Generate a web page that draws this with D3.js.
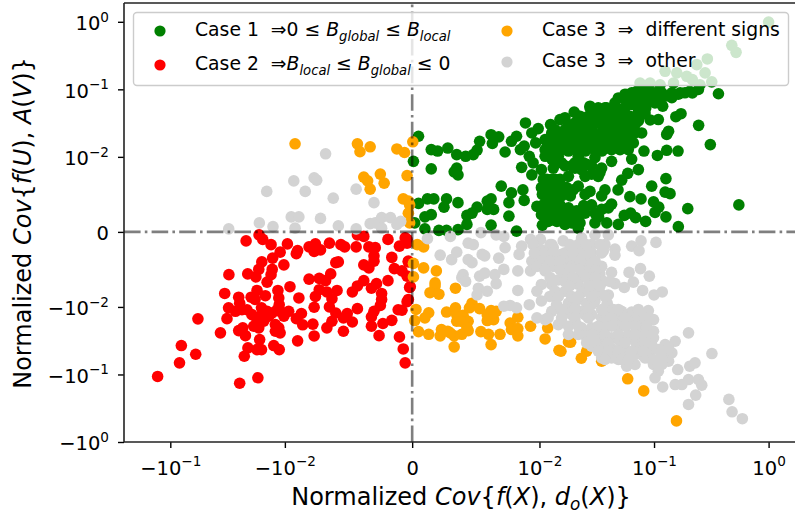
<!DOCTYPE html>
<html>
<head>
	<title>Chart</title>
	<meta charset='utf-8'>
	<style>
		body {
			margin: 0;
			background: #fff;
		}

		text {
			font-family: 'DejaVu Sans', sans-serif;
			fill: #000;
			white-space: pre;
		}

		.tick line {
			stroke: #000;
			stroke-width: 1.4px;
		}

		.axis path.domain {
			stroke-width: 0;
		}

		.spine {
			stroke: #222;
			stroke-width: 1.6px;
		}

		.zero-line {
			stroke: #000;
			stroke-opacity: 0.5;
			stroke-width: 2.6px;
			stroke-dasharray: 16.6 4.2 2.6 4.2;
		}
	</style>
</head>
<body>
<div id="chart"></div>
<script src='https://cdnjs.cloudflare.com/ajax/libs/d3/7.8.5/d3.min.js'></script>
<script>
	'use strict';

	const xTickValues = [-0.1, -0.01, 0, 0.01, 0.1, 1];
	const yTickValues = [-1, -0.1, -0.01, 0, 0.01, 0.1, 1];

	// values, [x, y]
	const case1Points = [
		[.0005,.0202],[.0001,.0094],[.0015,.0084],[.0015,.0128],[.0020,.0122],[.0028,.0135],[.0035,.0108],[.0042,.0102],
		[.0048,.0108],[.0051,.0126],[.0053,.0170],[.0062,.0213],[.0068,.0198],[.0063,.0158],[.0073,.0118],[.0078,.0170],
		[.0082,.0202],[.0085,.0128],[.0088,.0144],[.0089,.0318],[.0094,.0226],[.0099,.0262],[.0097,.0161],[.0092,.0102],
		[.0095,.0092],[.0086,.0086],[.0094,.0076],[.0104,.0083],[.0125,.0301],[.0151,.0357],[.0167,.0380],[.0201,.0461],
		[.0112,.0180],[.0119,.0128],[.0128,.0202],[.0137,.0144],[.0156,.0180],[.0146,.0102],[.0179,.0202],[.0191,.0144],
		[.0167,.0254],[.0204,.0318],[.0218,.0180],[.0233,.0254],[.0250,.0357],[.0276,.0563],[.0305,.0448],[.0373,.0532],
		[.0349,.0357],[.0285,.0254],[.0326,.0202],[.0267,.0144],[.0305,.0099],[.0218,.0102],[.0191,.0088],[.0233,.0083],
		[.0285,.0077],[.0349,.0085],[.0326,.0074],[.0426,.0094],[.0399,.0144],[.0426,.0254],[.0488,.0400],[.0456,.0631],
		[.0558,.0847],[.0638,.0597],[.0730,.0792],[.0892,.0995],[.102,.0888],[.119,.0563],[.109,.0357],[.0925,.0352],
		[.0834,.0448],[.0730,.0340],[.0522,.0318],[.0638,.0226],[.0558,.0161],[.0780,.0226],[.0660,.0161],[.0488,.0180],
		[.0638,.0097],[.0817,.0122],[.107,.0105],[.129,.0125],[.162,.0122],[.129,.0215],[.134,.0240],[.155,.0393],
		[.172,.0436],[.245,.0293],[.310,.0152],[.365,.0860],[.55,.0036],[.197,.0031],[.163,.0007],[.127,.0071],
		[.127,.0020],[.0954,.0061],[.125,.0053],[.138,.0051],[.0770,.0044],[.0615,.0047],[.0990,.0040],[.110,.0033],
		[.102,.0026],[.0845,.0014],[.0690,.0019],[.0625,.0025],[.0550,.0022],[.0485,.0056],[.0522,.0069],[.0590,.0078],
		[.0730,.0083],[.0488,.0010],[.0387,.0012],[.0305,.0012],[.0426,.0037],[.0399,.0032],[.0349,.0030],[.0373,.0056],
		[.0349,.0048],[.0276,.0054],[.0250,.0050],[.0218,.0061],[.0186,.0048],[.0197,.0056],[.0243,.0035],[.0285,.0036],
		[.0305,.0025],[.0218,.0019],[.0191,.0025],[.0167,.0023],[.0151,.0034],[.0137,.0052],[.0156,.0061],[.0128,.0065],
		[.0106,.0050],[.0116,.0070],[.0128,.0043],[.0142,.0032],[.0098,.0034],[.0104,.0023],[.0106,.0009],[.0128,.0016],
		[.0167,.0010],[.0218,.0005],[.0087,.0056],[.0088,.0042],[.0070,.0061],[.0078,.0052],[.0076,.0039],[.0076,.0021],
		[.0082,.0001],[.0062,.0009],[.0062,.0044],[.0059,.0041],[.0051,.0033],[.0059,.0030],[.0064,.0030],[.0036,.0039],
		[.0027,.0044],[.0025,.0033],[.0017,.0044],[.0012,.0044],[.0005,.0038],[.0015,.0023],[.0010,.0020],[.0002,.0012],
		[.0010,.0004],[.0021,.0002],[.0027,.0002],[.0036,.0003],[.0043,.0022],[.0047,.0025],[.0043,.0010],[.0035,.0085],
		[.0033,.0080],[.0036,.0076],[.0112,.0056],[.0119,.0061],[.0137,.0070],[.0137,.0254],[.0179,.0284],[.0218,.0400],
		[.0285,.0357],[.0426,.0448],[.0522,.0502],[.0596,.0400],[.0730,.0502],[.0834,.0631],[.0682,.0707],[.102,.0631],
		[.125,.0792],[.163,.0847],[.205,.0935],[.244,.0995],[.143,.0752],[.0488,.0745],[.0326,.0318],[.0399,.0284],
		[.0522,.0226],[.0250,.0202],[.0399,.0202],[.0191,.0202],[.0137,.0180],[.0128,.0097],[.0179,.0122],[.0250,.0122],
		[.0349,.0122],[.0204,.0092],[.0258,.0090],[.0167,.0088],[.0337,.0180],[.0167,.0144],[.0558,.0284],[.0755,.0707],
		[.0456,.0161],[.0112,.0102],[.0128,.0059],[.0142,.0056],[.0132,.0039],[.0119,.0028],[.0156,.0016],[.0186,.0014],
		[.0142,.0021],[.0328,.0020],
		[.0276,.0532],[.0326,.0532],[.0385,.0532],[.0466,.0532],[.0558,.0532],[.0730,.0532],[.0848,.0532],
		[.0226,.04],[.0267,.04],[.0315,.04],[.0373,.04],[.0441,.04],[.0522,.04],[.0617,.04],[.0755,.04],
		[.0179,.0301],[.0211,.0301],[.025,.0301],[.0295,.0301],[.0349,.0301],[.0412,.0301],[.0488,.0301],[.0577,.0301],[.0682,.0301],
		[.0128,.0226],[.0151,.0226],[.0179,.0226],[.0211,.0226],[.025,.0226],[.0295,.0226],[.0349,.0226],[.0412,.0226],[.0488,.0226],[.0577,.0226],[.0682,.0226],
		[.0115,.0171],[.0137,.0171],[.0161,.0171],[.0191,.0171],[.0226,.0171],[.0267,.0171],[.0315,.0171],[.0373,.0171],[.0441,.0171],[.0522,.0171],[.0617,.0171],
		[.0112,.0128],[.0132,.0128],[.0156,.0128],[.0184,.0128],[.0218,.0128],[.0258,.0128],[.0305,.0128],[.0361,.0128],[.0426,.0128],[.0505,.0128],[.0596,.0128],
		[.0558,.0707],[.0660,.0707],[.078,.0707],[.0921,.0707],[.109,.0707],
		[.0638,.0888],[.078,.0888],[.0954,.0888],[.117,.0888],[.143,.0888],[.186,.0888],
		[.0108,.0070],[.0128,.0070],[.0151,.0070],[.0104,.0059],[.0124,.0059],[.0146,.0059],[.0173,.0059],
		[.0112,.0048],[.0132,.0048],[.0156,.0048],[.0108,.0036],[.0128,.0036],[.0151,.0036],
		[.0112,.0025],[.0132,.0025],[.0156,.0025],[.0119,.0014],[.0142,.0014],[.0167,.0014],
		[.0204,.0085],[.0242,.0092],[.0285,.0088],[.0337,.0079],[.025,.0074],[.0156,.0092],[.0132,.0085],[.0179,.0074],
		[.0179,.0032],[.0211,.0028],[.025,.0025],[.0191,.0012],[.0226,.0012],
		[1.0,.99],[.477,.449],[.52,.353],[.292,.282],[.236,.232],[.279,.175],[.319,.129],[.193,.156],[.158,.175],
		[.125,.185],[.0755,.124],[.0923,.124],[.113,.117],[.148,.124],[.216,.139],[.252,.117],[.0577,.0836],[.0706,.0936],
		[.0863,.0936],[.113,.0885],[.169,.0885],[.216,.0885]
	];

	const case2Points = [
		[.0168,.0004],[.0218,.0012],[.0156,.001],[.0132,.0017],[.0098,.0016],[.0110,.0027],[.0090,.0025],[.0091,.0029],
		[.0081,.0020],[.0076,.0016],[.0077,.0026],[.0072,.0024],[.0065,.0015],[.0056,.0017],[.0053,.0020],[.0044,.0020],
		[.0043,.0004],[.0038,.0006],[.0034,.0020],[.0029,.0021],[.0019,.0010],[.00055,.0008],[.0010,.0019],[.0004,.0015],
		[.0030,.0032],[.0030,.0039],[.0034,.0048],[.0038,.0044],[.0016,.0034],[.0014,.0049],[.0008,.0052],[.0003,.0039],
		[.0004,.0059],[.0060,.0041],[.0058,.0040],[.0064,.0056],[.0068,.0065],[.0073,.0062],[.0081,.0063],[.0159,.0040],
		[.0128,.0035],[.0102,.0044],[.0129,.0050],[.0132,.0057],[.0143,.0067],[.0169,.0050],[.0179,.0060],[.0211,.0056],
		[.0308,.0057],[.0335,.0082],[.0253,.0087],[.0248,.0095],[.0175,.0078],[.0197,.0087],[.0182,.0090],[.0148,.0085],
		[.0115,.0078],[.0113,.0088],[.0096,.0073],[.0089,.0088],[.0112,.0097],[.0073,.0077],[.0076,.0086],[.0067,.0080],
		[.0059,.0078],[.0063,.0089],[.0077,.0101],[.0065,.0100],[.0060,.0123],[.0047,.0080],[.0043,.0072],[.0038,.0065],
		[.0032,.0075],[.0028,.0069],[.0024,.0082],[.0024,.0090],[.0025,.0098],[.0030,.0116],[.0032,.0140],[.0032,.0193],
		[.0019,.0065],[.0043,.0106],[.0051,.0125],[.0047,.0167],[.0054,.0145],[.0063,.0163],[.0067,.0204],[.0054,.0229],
		[.0023,.0176],[.0016,.0158],[.0026,.0266],[.0010,.0278],[.0007,.0419],[.00055,.0673],[.0011,.0110],[.0008,.0112],
		[.0003,.0090],[.0002,.0074],[.0310,.0103],[.0270,.0116],[.0237,.0110],[.0320,.0149],[.0574,.0150],[.0365,.0242],
		[.0253,.0224],[.0233,.0204],[.0221,.0266],[.0160,.0103],[.0143,.0116],[.0164,.0137],[.0129,.0123],[.0110,.0116],
		[.0097,.0116],[.0102,.0137],[.0091,.0149],[.0087,.0125],[.0086,.0184],[.0078,.0180],[.0077,.0269],[.0090,.0318],
		[.0187,.0193],[.0169,.0204],[.0153,.0163],[.0121,.0182],[.0113,.0204],[.0121,.0229],[.0110,.0242],[.0166,.0304],
		[.0210,.0404],[.0226,.0537],[.0175,.0428],[.0160,.0428],[.0125,.0373],[.0112,.0428],[.0801,.0373],[.0600,.0502],
		[.0831,.0673],[.129,.107],[.0248,.135],[.0172,.112],[.0214,.0110],[.0194,.0130],[.0175,.0154],[.0138,.0137],
		[.0117,.0110],[.0004,.001],[.0003,.004],[.00015,.0073],[.0004,.0093]
	].map((d) => [-d[0], -d[1]]);

	const case3SignPoints = [
		[.0004,-.0017],[.0009,-.0020],[.0001,-.0042],[.0009,-.0048],[.0019,-.0052],[.0001,-.0060],[.0018,-.0068],[.0018,-.0072],
		[.0034,-.0075],[.0014,-.0081],[.0021,-.0083],[.0003,-.0109],[.0013,-.0122],[.0010,-.0145],[.0002,-.0159],[.0005,-.0232],
		[.0013,-.0254],[.0022,-.0268],[.0023,-.0216],[.0028,-.0229],[.0027,-.0119],[.0034,-.0103],[.0035,-.0130],[.0040,-.0133],
		[.0035,-.0163],[.0042,-.0173],[.0044,-.0163],[.0047,-.0095],[.0045,-.0103],[.0053,-.0106],[.0062,-.0113],[.0066,-.0116],
		[.0059,-.0159],[.0064,-.0154],[.0044,-.0224],[.0039,-.0254],[.0033,-.0268],[.0033,-.0390],[.0054,-.0232],[.0060,-.0254],
		[.0069,-.0254],[.0062,-.0361],[.0077,-.0173],[.0078,-.0216],[.0083,-.0209],[.0083,-.0268],[.0083,-.0142],[.0093,-.0193],
		[.0118,-.0204],[.0112,-.0298],[.0148,-.0438],[.0154,-.0453],[.0179,-.0330],[.0187,-.0333],[.0232,-.0575],[.0258,-.0453],
		[.0349,-.0636],[.0589,-.116],[.0813,-.175],[.157,-.487],[.0038,-.0163],[.0043,-.0204],[.0030,-.0243],[.0059,-.0130],
		[.0064,-.0122],
		[-.0092,.0156],[-.0043,.0156],[-.0041,.0119],[-.0033,.0141],[-.0012,.0131],[-.0006,.0116],[.00005,.0167],[-.0038,.0073],
		[-.0035,.0068],[-.0033,.0057],[-.0025,.0077],[-.0022,.0065],[-.0004,.0075],[-.0007,.0044],[-.0003,.0041],[-.0002,.0036],
		[-.0003,.0025],[-.0002,.0012]
	];

	const case3OtherPoints = [
		[-.0068,.0111],[-.0093,.0068],[-.0077,.0072],[-.0075,.0069],[-.0084,.0054],[-.0144,.0054],[-.0062,.0045],[-.0044,.0057],
		[-.0030,.0039],[-.0095,.0020],[-.0089,.0020],[-.0167,.0012],[-.0072,.0018],[-.0127,.0007],[-.0092,.0005],[-.0309,.0004],
		[-.0058,.0008],[-.0044,.0004],[-.0033,.0011],[-.0029,.0012],[-.0024,.0019],[-.0017,.0019],[-.0009,.0014],[-.0012,.0010],
		[-.0024,.0005]
	].concat([
		[.0012,.0009],[.0022,.0031],[.0031,.0037],[.0035,.0027],[.0030,.0006],[.0044,.0015],[.0048,.0017],[.0055,.0030],
		[.0057,.0032],[.0047,.0041],[.0044,.0037],[.0068,.0035],[.0073,.0021],[.0066,.0004],[.0072,.0006],[.0054,.0001],
		[.0040,.0057],[.0039,.0061],[.0042,.0066],[.0053,.0059],[.0057,.0055],[.0065,.0057],[.0072,.0050],[.0066,.0069],
		[.0052,.0075],[.0059,.0079],[.0051,.0084],[.0083,.0078],[.0083,.0052],[.0084,.0030],[.0086,.0019],[.0093,.0010],
		[.0102,.0010],[.0104,.0024],[.0132,.0021],[.0137,.0031],[.0161,.0012],[.0191,.0021],[.0233,.0008],[.0305,.0004],
		[.0399,.0004],[.0093,.0052],[.0094,.0039],[.0101,.0037],[.0112,.0052],[.0119,.0041],[.0151,.0044],[.0179,.0041],
		[.0218,.0046],[.0258,.0035],[.0285,.0028],[.0361,.0025],[.0456,.0023],[.0456,.0031],[.0638,.0019],[.0770,.0012],
		[.0740,.0025],[.104,.0014],[.0276,.0057],[.0337,.0056],[.0426,.0054],[.0605,.0054],[.0762,.0049],[.0910,.0059],
		[.0660,.0067],[.0550,.0074],[.0456,.0069],[.0361,.0066],[.0399,.0084],[.0795,.0078],[.100,.0084],[.118,.0080],
		[.0146,.0064],[.0128,.0070],[.0104,.0070],[.0098,.0079],[.0184,.0059],[.0218,.0070],[.0258,.0075],[.0233,.0081],
		[.0123,.0086],[.0104,.0092],[.0092,.0097],[.0082,.0103],[.0077,.0098],[.0072,.0099],[.0141,.0097],[.0179,.0095],
		[.0218,.0090],[.0258,.0095],[.0305,.0092],[.0390,.0095],[.0441,.0109],[.0638,.0119],[.0892,.0113],[.0098,.0145],
		[.0112,.0154],[.0146,.0183],[.0128,.0116],[.0156,.0116],[.0191,.0130],[.0233,.0116],[.0285,.0130],[.0349,.0145],
		[.0488,.0145],[.0638,.0163],[.0780,.0183],[.0990,.0154],[.0990,.0229],[.0990,.0287],[.0179,.0256],[.0233,.0204],
		[.0285,.0204],[.0373,.0204],[.0488,.0204],[.0596,.0256],[.0730,.0287],[.0258,.0287],[.0285,.0382],[.0349,.0322],
		[.0426,.0287],[.0522,.0322],[.0682,.0322],[.0349,.0567],[.0441,.0428],[.0488,.060],[.0577,.0754],[.0682,.0712],
		[.0780,.0508],[.0920,.0453],[.109,.0428],[.125,.0361],[.153,.0322],[.200,.0242],[.32,.0490],[.143,.0480],
		[.134,.0636],[.0990,.0712],[.0892,.0567],[.109,.0894],[.117,.0712],[.161,.0845],[.102,.112],[.119,.153],
		[.153,.141],[.175,.141],[.200,.119],[.244,.119],[.261,.144],[.205,.0754],[.228,.0673],[.231,.202],
		[.200,.278],[.45,.234],[.48,.357],[.59,.452],[.0522,.0183],[.0730,.0204],[.0373,.0405],[.0156,.0163],
		[.0204,.0163],[.0315,.0256],[.0218,.0256],[.0191,.0048],[.0167,.0061],[.0233,.0057],[.0137,.0079],[.0167,.0079],
		[.0191,.0086],[.0285,.0079],[.0337,.0081],[.0197,.0035],[.0225,.0032],[.0156,.0030],[.0399,.0116],[.0373,.0163],
		[.0522,.0116],[.0577,.0183],[.0730,.0145],[.0426,.0567],[.0558,.0453],[.0682,.0508],[.0522,.0405],[.0834,.0361],
		[.0730,.0405],[.0954,.0361],[.0285,.0097],[.0250,.0130],[.0204,.0103],[.0167,.0109],[.0426,.0163],[.0373,.0272],
		[.0488,.0304],[.117,.0508],[.134,.0405],[.0834,.0567],
		[.0095,.0017],[.0128,.0017],[.0218,.0017],[.0285,.0017],[.0373,.0017],
		[.0096,.0028],[.0167,.0028],[.0233,.0028],[.0349,.0028],
		[.0098,.0046],[.0132,.0046],[.0191,.0046],[.0258,.0046],[.0349,.0046],
		[.0167,.0066],[.0305,.0066],[.0412,.0066],
		[.0146,.0086],[.0218,.0086],[.0285,.0086],[.0373,.0086],
		[.0156,.0109],[.0204,.0109],[.0267,.0109],[.0349,.0109],[.0488,.0109],[.073,.0109],
		[.0119,.0145],[.0156,.0145],[.0204,.0145],[.0267,.0145],[.0426,.0145],[.0558,.0145],[.0834,.0145],
		[.0179,.0193],[.0218,.0193],[.0326,.0193],[.0426,.0193],[.0558,.0193],[.0682,.0193],[.0865,.0193],
		[.0258,.0256],[.0285,.0256],[.0373,.0256],[.0488,.0256],[.0682,.0256],[.0834,.0256],
		[.0258,.034],[.0305,.034],[.0399,.034],[.0558,.034],[.0834,.034],
		[.0326,.0453],[.0399,.0453],[.0488,.0453],[.0638,.0453],[.0804,.0453],
		[.0373,.060],[.0522,.060],[.0596,.060],[.099,.060],[.117,.060],
		[.0124,.0017],[.0184,.0017],[.0256,.0017],[.0337,.0017],
		[.0112,.0028],[.0132,.0028],[.0196,.0028],[.0276,.0028],
		[.0124,.0039],[.0151,.0039],[.0226,.0039],[.0306,.0039],
		[.0112,.005],[.0151,.005],[.0184,.005],[.0226,.005],[.0276,.005],[.0308,.0052],
		[.0124,.0061],[.0196,.0061],[.0256,.0061],[.0306,.0061],
		[.0184,.0072],[.0276,.0072],[.0337,.0072]
	].map((d) => [d[0], -d[1]]));

	const LINTHRESH = 0.01;
	const LINSCALE = 1 / (1 - 1 / 10);

	// same transform as matplotlib symlog, base 10, linscale 1
	function symlog(v) {
		const a = Math.abs(v);
		if (a <= LINTHRESH) {
			return v / LINTHRESH * LINSCALE;
		}
		return Math.sign(v) * (LINSCALE + Math.log10(a / LINTHRESH));
	}

	const width = 795;
	const height = 515;
	const plot = {left: 124, right: 795, top: 3, bottom: 442};

	const xScale = d3.scaleLinear().domain([symlog(-0.1), symlog(1)]).range([170.3, 768.6]);
	const yScale = d3.scaleLinear().domain([symlog(-1), symlog(1)]).range([442, 21.8]);

	const svg = d3.select('div#chart').append('svg')
		.attr('width', width)
		.attr('height', height)
		.style('display', 'block');

	const groups = [
		{points: case1Points, color: '#008000'},
		{points: case2Points, color: '#ff0000'},
		{points: case3SignPoints, color: '#ffa500'},
		{points: case3OtherPoints, color: '#d3d3d3'}
	];

	groups.forEach((group) => {
		svg.append('g').selectAll('circle')
			.data(group.points)
			.enter().append('circle')
			.attr('r', 5.8)
			.attr('fill', group.color)
			.attr('cx', (d) => xScale(symlog(d[0])))
			.attr('cy', (d) => yScale(symlog(d[1])));
	});

	// Линии через ноль поверх точек
	svg.append('line').attr('class', 'zero-line')
		.attr('x1', plot.left).attr('x2', plot.right)
		.attr('y1', yScale(0)).attr('y2', yScale(0));
	svg.append('line').attr('class', 'zero-line')
		.attr('x1', xScale(0)).attr('x2', xScale(0))
		.attr('y1', plot.bottom).attr('y2', plot.top);

	function tickText(selection, value) {
		if (value === 0) {
			selection.text('0');
			return;
		}
		selection.text('');
		selection.append('tspan').text((value < 0 ? '\u2212' : '') + '10');
		const exponent = Math.round(Math.log10(Math.abs(value)));
		selection.append('tspan')
			.attr('dy', -8.5)
			.attr('font-size', 13.6)
			.text(exponent === 0 ? '0' : '\u2212' + Math.abs(exponent));
	}

	const xAxis = d3.axisBottom(xScale)
		.tickValues(xTickValues.map(symlog))
		.tickSize(6)
		.tickPadding(8);
	const yAxis = d3.axisLeft(yScale)
		.tickValues(yTickValues.map(symlog))
		.tickSize(6)
		.tickPadding(9);

	const xAxisG = svg.append('g')
		.attr('class', 'axis')
		.attr('transform', 'translate(0,' + plot.bottom + ')')
		.call(xAxis);
	xAxisG.selectAll('.tick text')
		.data(xTickValues)
		.attr('font-size', 19.5)
		.attr('dy', '0.95em')
		.each(function(d) {tickText(d3.select(this), d);});

	const yAxisG = svg.append('g')
		.attr('class', 'axis')
		.attr('transform', 'translate(' + plot.left + ',0)')
		.call(yAxis);
	yAxisG.selectAll('.tick text')
		.data(yTickValues)
		.attr('font-size', 19.5)
		.attr('dy', '0.4em')
		.each(function(d) {tickText(d3.select(this), d);});

	svg.append('line').attr('class', 'spine')
		.attr('x1', plot.left).attr('x2', plot.left).attr('y1', plot.top).attr('y2', plot.bottom);
	svg.append('line').attr('class', 'spine')
		.attr('x1', plot.left).attr('x2', plot.right).attr('y1', plot.bottom).attr('y2', plot.bottom);
	svg.append('line').attr('class', 'spine')
		.attr('x1', plot.left).attr('x2', plot.right).attr('y1', plot.top).attr('y2', plot.top);

	// parts: [text, 'i' курсив | 's' нижний индекс]
	function mathLabel(selection, parts) {
		let shift = 0;
		parts.forEach((part) => {
			const span = selection.append('tspan').text(part[0]);
			if (part[1]) {
				span.attr('font-style', 'italic');
			}
			const nextShift = part[1] === 's' ? 4.5 : 0;
			if (nextShift !== shift) {
				span.attr('dy', nextShift - shift);
			}
			if (part[1] === 's') {
				span.attr('font-size', '0.7em');
			}
			shift = nextShift;
		});
	}

	svg.append('text')
		.attr('x', 461)
		.attr('y', 505)
		.attr('text-anchor', 'middle')
		.attr('font-size', 24)
		.call(mathLabel, [['Normalized '], ['Cov', 'i'], ['{'], ['f', 'i'], ['('], ['X', 'i'], ['), '], ['d', 'i'], ['o', 's'], ['('], ['X', 'i'], [')}']]);

	svg.append('text')
		.attr('transform', 'translate(31,223) rotate(-90)')
		.attr('text-anchor', 'middle')
		.attr('font-size', 24)
		.call(mathLabel, [['Normalized '], ['Cov', 'i'], ['{'], ['f', 'i'], ['('], ['U', 'i'], ['), '], ['A', 'i'], ['('], ['V', 'i'], [')}']]);

	// Легенда
	svg.append('rect')
		.attr('x', 133.5)
		.attr('y', 12.5)
		.attr('width', 655)
		.attr('height', 73)
		.attr('rx', 3.5)
		.attr('fill', '#fff')
		.attr('fill-opacity', 0.8)
		.attr('stroke', '#ccc')
		.attr('stroke-width', 1.4);

	const legendItems = [
		{x: 160, y: 31, color: '#008000', parts: [['Case 1  \u21D20 \u2264 '], ['B', 'i'], ['global', 's'], [' \u2264 '], ['B', 'i'], ['local', 's']]},
		{x: 160, y: 65, color: '#ff0000', parts: [['Case 2  \u21D2'], ['B', 'i'], ['local', 's'], [' \u2264 '], ['B', 'i'], ['global', 's'], [' \u2264 0']]},
		{x: 507, y: 31, color: '#ffa500', parts: [['Case 3  \u21D2  different signs']]},
		{x: 507, y: 62, color: '#d3d3d3', parts: [['Case 3  \u21D2  other']]}
	];

	legendItems.forEach((item) => {
		svg.append('circle')
			.attr('cx', item.x)
			.attr('cy', item.y)
			.attr('r', 5.6)
			.attr('fill', item.color);
		svg.append('text')
			.attr('x', item.x + 35)
			.attr('y', item.y + 5.3)
			.attr('font-size', 18.8)
			.call(mathLabel, item.parts);
	});
</script>
</body>
</html>
